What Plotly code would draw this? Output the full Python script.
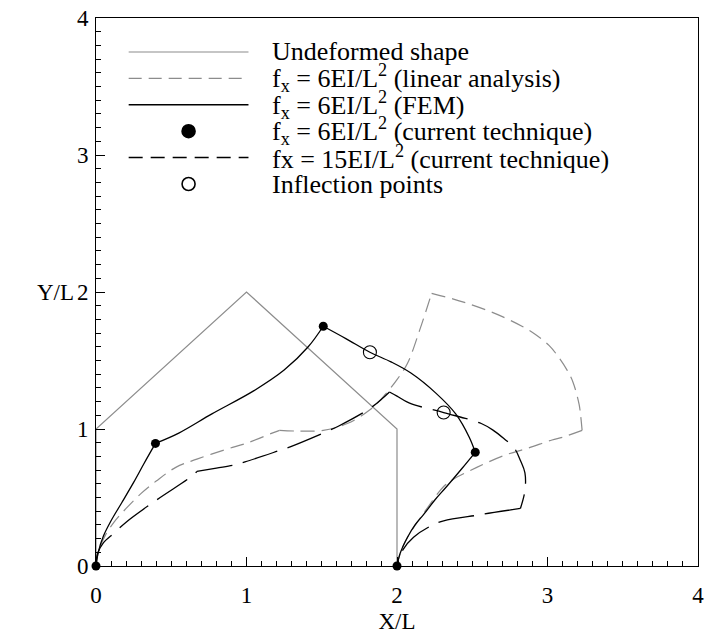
import plotly.graph_objects as go

# ---------------- data ----------------
undeformed_x = [0, 0, 1, 2, 2]
undeformed_y = [0, 1, 2, 1, 0]

# linear analysis, fx = 6EI/L^2 (members separated by None)
linear_x = [0, 0.02, 0.06, 0.12, 0.20, 0.30, 0.40, 0.53, 0.67, 0.86, 1.01, 1.17, 1.22, None,
            1.22, 1.34, 1.51, 1.67, 1.82, 1.92, 2.00, 2.07, 2.15, 2.23, None,
            2.23, 2.37, 2.46, 2.59, 2.70, 2.83, 2.92, 3.01, 3.07, 3.13, 3.17, 3.21, 3.22, 3.23, None,
            3.23, 3.10, 3.03, 2.87, 2.72, 2.53, 2.37, 2.31, 2.18, 2.07, 2.02, 2.0]
linear_y = [0, 0.12, 0.22, 0.32, 0.42, 0.53, 0.62, 0.72, 0.78, 0.85, 0.90, 0.97, 0.99, None,
            0.99, 0.985, 0.99, 1.04, 1.14, 1.25, 1.36, 1.48, 1.72, 1.99, None,
            1.99, 1.95, 1.92, 1.87, 1.82, 1.75, 1.69, 1.61, 1.53, 1.43, 1.34, 1.18, 1.10, 0.99, None,
            0.99, 0.94, 0.92, 0.86, 0.81, 0.72, 0.63, 0.58, 0.39, 0.21, 0.09, 0]

# FEM, fx = 6EI/L^2
fem_x = [0, 0.015, 0.05, 0.10, 0.17, 0.25, 0.32, 0.395, None,
         0.395, 0.55, 0.77, 1.05, 1.25, 1.41, 1.51, None,
         1.51, 1.66, 1.82, 1.96, 2.09, 2.26, 2.39, 2.48, 2.52, None,
         2.52, 2.43, 2.33, 2.25, 2.18, 2.12, 2.07, 2.02, 2.0]
fem_y = [0, 0.10, 0.22, 0.33, 0.46, 0.61, 0.75, 0.895, None,
         0.895, 0.97, 1.11, 1.28, 1.43, 1.60, 1.75, None,
         1.75, 1.66, 1.56, 1.49, 1.41, 1.26, 1.11, 0.94, 0.83, None,
         0.83, 0.71, 0.58, 0.48, 0.38, 0.30, 0.21, 0.09, 0]

# current technique, fx = 6EI/L^2 (node points)
tech_x = [0, 0.395, 1.51, 2.52, 2.0]
tech_y = [0, 0.895, 1.75, 0.83, 0]

# current technique, fx = 15EI/L^2
f15_x = [0, 0.01, 0.05, 0.12, 0.20, 0.40, 0.63, 0.67, None,
         0.67, 0.80, 0.91, 0.99, 1.21, 1.29, 1.53, 1.61, 1.82, 1.91, 1.95, None,
         1.95, 2.0, 2.08, 2.31, 2.56, 2.64, 2.71, 2.78, 2.82, 2.85, 2.85, 2.82, None,
         2.82, 2.58, 2.53, 2.31, 2.22, 2.11, 2.04, 2.0]
f15_y = [0, 0.09, 0.17, 0.24, 0.32, 0.48, 0.65, 0.69, None,
         0.69, 0.715, 0.735, 0.76, 0.84, 0.87, 0.98, 1.02, 1.15, 1.23, 1.27, None,
         1.27, 1.24, 1.19, 1.12, 1.04, 0.99, 0.93, 0.86, 0.77, 0.68, 0.55, 0.42, None,
         0.42, 0.38, 0.37, 0.33, 0.29, 0.21, 0.12, 0]

# inflection points
infl_x = [1.82, 2.31]
infl_y = [1.56, 1.12]

names = [
    "Undeformed shape",
    "f<sub>x</sub> = 6EI/L<sup>2</sup> (linear analysis)",
    "f<sub>x</sub> = 6EI/L<sup>2</sup> (FEM)",
    "f<sub>x</sub> = 6EI/L<sup>2</sup> (current technique)",
    "fx = 15EI/L<sup>2</sup> (current technique)",
    "Inflection points",
]

FONT = "Liberation Serif"
GRAY = "#8c8c8c"

styles = [
    dict(kind="line", color=GRAY, width=1.2, dash="solid"),
    dict(kind="line", color=GRAY, width=1.2, dash="13px,7px"),
    dict(kind="line", color="black", width=1.5, dash="solid"),
    dict(kind="dot", filled=True),
    dict(kind="line", color="black", width=1.5, dash="14px,8px"),
    dict(kind="dot", filled=False),
]

fig = go.Figure()
fig.add_trace(go.Scatter(x=undeformed_x, y=undeformed_y, mode="lines", name=names[0],
                         line=dict(color=GRAY, width=1.2)))
fig.add_trace(go.Scatter(x=linear_x, y=linear_y, mode="lines", name=names[1],
                         line=dict(color=GRAY, width=1.2, dash="14px,7px", shape="spline"),
                         connectgaps=False))
fig.add_trace(go.Scatter(x=fem_x, y=fem_y, mode="lines", name=names[2],
                         line=dict(color="black", width=1.3, shape="spline"), connectgaps=False))
fig.add_trace(go.Scatter(x=f15_x, y=f15_y, mode="lines", name=names[4],
                         line=dict(color="black", width=1.3, dash="36px,11px", shape="spline"),
                         connectgaps=False))
fig.add_trace(go.Scatter(x=tech_x, y=tech_y, mode="markers", name=names[3], cliponaxis=False,
                         marker=dict(color="black", size=9, symbol="circle")))
fig.add_trace(go.Scatter(x=infl_x, y=infl_y, mode="markers", name=names[5],
                         marker=dict(color="black", size=13, symbol="circle-open",
                                     line=dict(color="black", width=1.1))))

axis_common = dict(
    range=[0, 4], dtick=1, showgrid=False, zeroline=False,
    showline=True, linecolor="black", linewidth=1, mirror=True,
    ticks="inside", ticklen=9, tickwidth=1, tickcolor="black",
    minor=dict(ticks="inside", ticklen=5, dtick=0.1, tickcolor="black", tickwidth=1),
    tickfont=dict(family=FONT, size=23, color="black"),
    ticklabeloverflow="allow",
)

# ---- manual legend (Tecplot-style: long line samples, tight rows) ----
L_PX, R_PX, T_PX, B_PX = 96, 704, 18, 566
W_PX, H_PX = R_PX - L_PX, B_PX - T_PX

def px_x(px):
    return (px - L_PX) / W_PX

def px_y(py):
    return (B_PX - py) / H_PX

leg_x0, leg_x1, leg_text_x = 129, 250, 272
leg_row0, leg_dy = 52, 26.4

shapes = []
annotations = []
for i, (name, st) in enumerate(zip(names, styles)):
    yc = leg_row0 + i * leg_dy
    if st["kind"] == "line":
        shapes.append(dict(type="line", xref="paper", yref="paper",
                           x0=px_x(leg_x0), x1=px_x(leg_x1), y0=px_y(yc), y1=px_y(yc),
                           line=dict(color=st["color"], width=st["width"], dash=st["dash"])))
    else:
        r = 6.5
        shapes.append(dict(type="circle", xref="paper", yref="paper",
                           xsizemode="pixel", ysizemode="pixel",
                           xanchor=px_x((leg_x0 + leg_x1) / 2), yanchor=px_y(yc),
                           x0=-r, x1=r, y0=-r, y1=r,
                           fillcolor="black" if st["filled"] else "white",
                           line=dict(color="black", width=1.6)))
    annotations.append(dict(text=name, xref="paper", yref="paper",
                            x=px_x(leg_text_x), y=px_y(yc), xanchor="left", yanchor="middle",
                            showarrow=False, font=dict(family=FONT, size=26, color="black")))

annotations.append(dict(text="Y/L", x=0, y=2, xref="paper", yref="y", xanchor="right",
                        yanchor="middle", xshift=-20, showarrow=False,
                        font=dict(family=FONT, size=23, color="black")))

fig.update_layout(
    width=709, height=642,
    margin=dict(l=96, r=5, t=18, b=76),
    paper_bgcolor="white", plot_bgcolor="white",
    font=dict(family=FONT, color="black"),
    xaxis=dict(**axis_common, ticklabelstandoff=8,
               title=dict(text="X/L", font=dict(family=FONT, size=23), standoff=6)),
    yaxis=dict(**axis_common, ticklabelstandoff=2),
    showlegend=False,
    shapes=shapes,
    annotations=annotations,
)

fig.write_html("out.html")
